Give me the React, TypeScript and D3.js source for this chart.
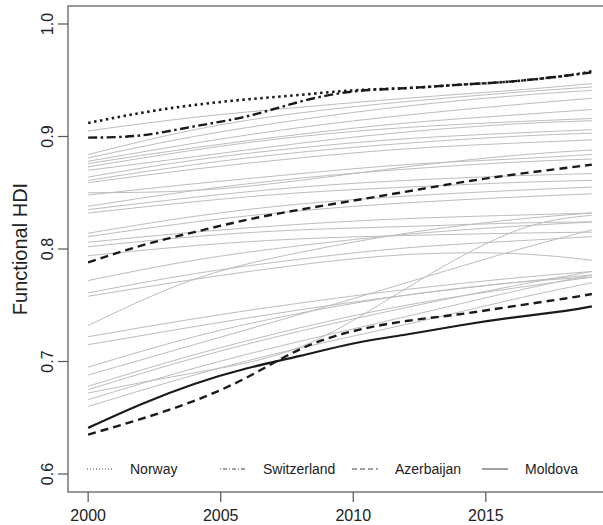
import React from 'react';
import * as d3 from 'd3';

// years used for the grey country curves
const greyYears = [2000, 2004, 2008, 2012, 2016, 2019];
const greySeries: number[][] = [
  [0.905, 0.917, 0.926, 0.934, 0.941, 0.947],
  [0.884, 0.906, 0.921, 0.931, 0.939, 0.944],
  [0.881, 0.900, 0.915, 0.927, 0.936, 0.941],
  [0.878, 0.894, 0.908, 0.919, 0.928, 0.934],
  [0.876, 0.890, 0.902, 0.912, 0.919, 0.924],
  [0.873, 0.888, 0.900, 0.908, 0.913, 0.916],
  [0.870, 0.882, 0.894, 0.904, 0.911, 0.914],
  [0.864, 0.879, 0.890, 0.898, 0.903, 0.906],
  [0.861, 0.875, 0.886, 0.894, 0.900, 0.903],
  [0.859, 0.871, 0.881, 0.889, 0.894, 0.897],
  [0.850, 0.852, 0.861, 0.873, 0.883, 0.888],
  [0.848, 0.858, 0.867, 0.875, 0.880, 0.884],
  [0.838, 0.852, 0.863, 0.871, 0.877, 0.880],
  [0.835, 0.846, 0.855, 0.861, 0.865, 0.867],
  [0.832, 0.842, 0.850, 0.855, 0.859, 0.861],
  [0.814, 0.829, 0.840, 0.847, 0.852, 0.855],
  [0.811, 0.824, 0.834, 0.841, 0.846, 0.849],
  [0.806, 0.815, 0.822, 0.827, 0.830, 0.832],
  [0.802, 0.811, 0.817, 0.820, 0.823, 0.824],
  [0.794, 0.803, 0.809, 0.812, 0.814, 0.815],
  [0.772, 0.790, 0.803, 0.813, 0.820, 0.824],
  [0.761, 0.778, 0.791, 0.801, 0.807, 0.811],
  [0.758, 0.773, 0.786, 0.795, 0.796, 0.790],
  [0.732, 0.773, 0.797, 0.814, 0.826, 0.832],
  [0.722, 0.738, 0.752, 0.764, 0.774, 0.780],
  [0.715, 0.731, 0.746, 0.759, 0.770, 0.777],
  [0.695, 0.722, 0.743, 0.759, 0.770, 0.775],
  [0.688, 0.715, 0.742, 0.770, 0.798, 0.817],
  [0.678, 0.706, 0.730, 0.750, 0.765, 0.775],
  [0.675, 0.703, 0.727, 0.748, 0.767, 0.780],
  [0.672, 0.690, 0.713, 0.765, 0.815, 0.830],
  [0.666, 0.694, 0.718, 0.740, 0.762, 0.777],
  [0.660, 0.688, 0.712, 0.733, 0.755, 0.770],
];

// highlighted countries
const hlYears = [2000, 2002, 2004, 2006, 2008, 2010, 2012, 2014, 2016, 2018, 2019];
const norway = [0.912, 0.921, 0.928, 0.933, 0.937, 0.941, 0.943, 0.946, 0.949, 0.954, 0.958];
const switzerland = [0.899, 0.901, 0.909, 0.918, 0.931, 0.940, 0.943, 0.946, 0.949, 0.954, 0.957];
const dashedUpper = [0.788, 0.803, 0.815, 0.826, 0.835, 0.843, 0.851, 0.859, 0.866, 0.872, 0.875];
const azerbaijan = [0.635, 0.649, 0.665, 0.686, 0.711, 0.727, 0.736, 0.742, 0.749, 0.756, 0.760];
const moldova = [0.641, 0.662, 0.680, 0.694, 0.705, 0.716, 0.724, 0.732, 0.739, 0.745, 0.749];

const xTicks = [2000, 2005, 2010, 2015];
const yTicks = [0.6, 0.7, 0.8, 0.9, 1.0];

const legendItems = [
  { name: 'Norway', dash: '1,2' },
  { name: 'Switzerland', dash: '1,2,4,2' },
  { name: 'Azerbaijan', dash: '5,3' },
  { name: 'Moldova', dash: null },
];

export default function App() {
  const width = 603;
  const height = 525;
  const left = 68, right = 612, top = 6, bottom = 492;

  const x = d3.scaleLinear().domain([1999.24, 2019.76]).range([left, right]);
  const y = d3.scaleLinear().domain([0.584, 1.016]).range([bottom, top]);

  const line = (years: number[]) =>
    d3.line<number>()
      .x((_, i) => x(years[i]))
      .y(d => y(d))
      .curve(d3.curveNatural);

  const greyLine = line(greyYears);
  const hlLine = line(hlYears);

  const highlights = [
    { data: norway, dash: '2.5,3.5', w: 2.6 },
    { data: switzerland, dash: '9,3.5,2.5,3.5', w: 2.4 },
    { data: dashedUpper, dash: '8,5', w: 2.4 },
    { data: azerbaijan, dash: '8,5', w: 2.4 },
    { data: moldova, dash: null, w: 2.2 },
  ];

  // legend geometry
  const legendX = [87, 220, 352, 482];
  const legendY = 469;
  const font = 'Liberation Sans, Arial, sans-serif';

  return (
    <svg width={width} height={height} style={{ position: 'absolute', left: 0, top: 0, background: '#fff' }}>
      <g>
        {greySeries.map((s, i) => (
          <path key={'g' + i} d={greyLine(s) || ''} fill="none" stroke="#bdbdbd" strokeWidth={1} />
        ))}
      </g>
      <g>
        {highlights.map((h, i) => (
          <path key={'h' + i} d={hlLine(h.data) || ''} fill="none" stroke="#1a1a1a"
            strokeWidth={h.w} strokeDasharray={h.dash || undefined} />
        ))}
      </g>

      {/* plot box */}
      <rect x={left} y={top} width={right - left} height={bottom - top} fill="none" stroke="#555" strokeWidth={1.2} />

      {/* x axis */}
      {xTicks.map(t => (
        <g key={'x' + t}>
          <line x1={x(t)} x2={x(t)} y1={bottom} y2={bottom + 10} stroke="#555" strokeWidth={1.2} />
          <text x={x(t)} y={521} textAnchor="middle" fontFamily={font} fontSize={16} fill="#222">{t}</text>
        </g>
      ))}

      {/* y axis */}
      {yTicks.map(t => (
        <g key={'y' + t}>
          <line x1={left - 10} x2={left} y1={y(t)} y2={y(t)} stroke="#555" strokeWidth={1.2} />
          <text transform={`translate(53,${y(t)}) rotate(-90)`} textAnchor="middle" fontFamily={font} fontSize={16} fill="#222">
            {t.toFixed(1)}
          </text>
        </g>
      ))}
      <text transform={`translate(27,${(top + bottom) / 2}) rotate(-90)`} textAnchor="middle" fontFamily={font} fontSize={20} fill="#222">
        Functional HDI
      </text>

      {/* legend */}
      {legendItems.map((d, i) => (
        <g key={d.name}>
          <line x1={legendX[i]} x2={legendX[i] + 26} y1={legendY} y2={legendY} stroke="#444" strokeWidth={1}
            strokeDasharray={d.dash || undefined} />
          <text x={legendX[i] + 43} y={legendY + 5} fontFamily={font} fontSize={14} fill="#222">{d.name}</text>
        </g>
      ))}
    </svg>
  );
}
